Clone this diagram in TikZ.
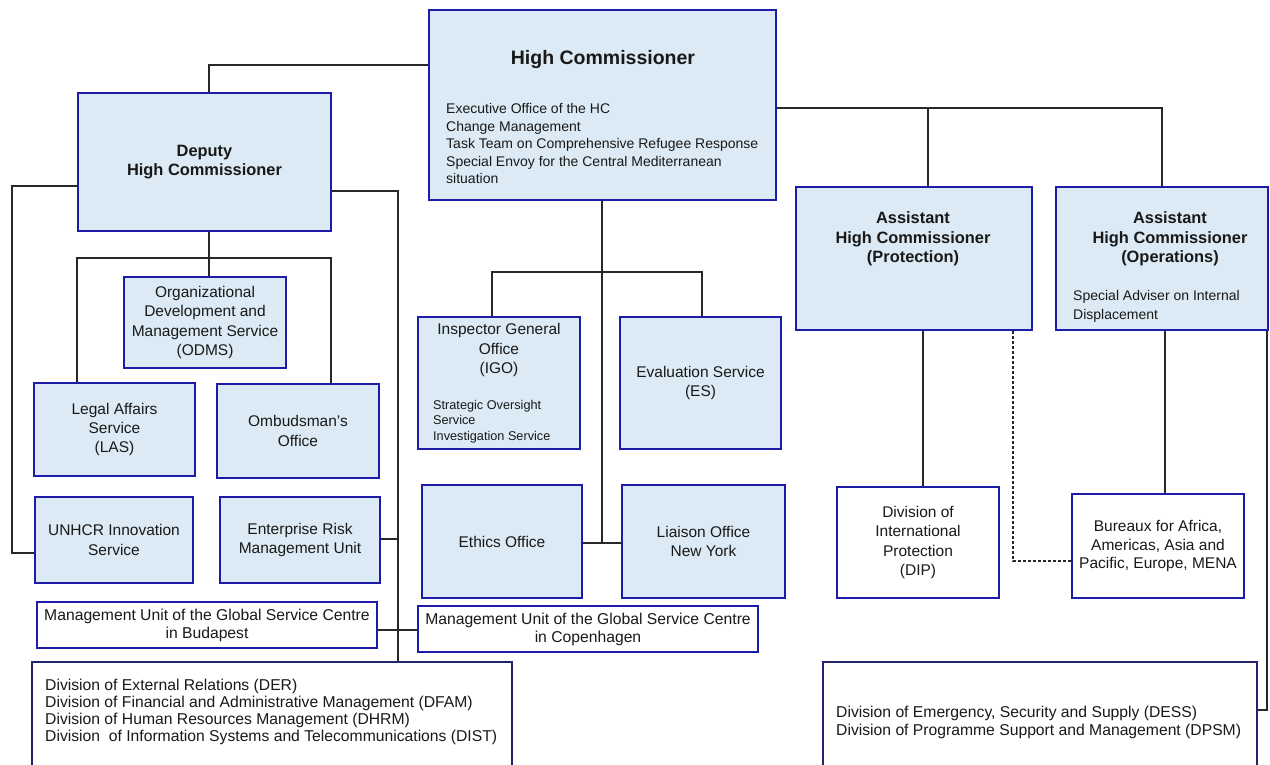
\documentclass[tikz,border=0pt]{standalone}
\usepackage{fontspec}
\setmainfont{Liberation Sans}
\definecolor{boxfill}{RGB}{219,234,244}
\definecolor{boxline}{RGB}{28,28,168}
\definecolor{navyline}{RGB}{35,35,110}
\definecolor{txt}{RGB}{25,25,25}
\definecolor{connc}{RGB}{40,40,40}
\tikzset{
  bluebox/.style={draw=boxline, line width=2pt, fill=boxfill, text=txt, align=center, inner sep=0pt},
  whitebox/.style={draw=boxline, line width=2pt, fill=white, text=txt, align=center, inner sep=0pt},
  navybox/.style={draw=navyline, line width=1.6pt, fill=white, inner sep=0pt},
  conn/.style={draw=connc, line width=1.1pt},
  dashconn/.style={draw=connc, line width=1.1pt, dash pattern=on 3pt off 2pt},
  txtnode/.style={text=txt, inner sep=0pt},
  fmain/.style={font=\fontsize{15.5}{19.3}\selectfont},
  fbold/.style={font=\fontsize{16.4}{19.6}\selectfont\bfseries},
  ftitle/.style={font=\fontsize{19.5}{23}\selectfont\bfseries},
  fhcbody/.style={font=\fontsize{14}{17.5}\selectfont},
  fsmall/.style={font=\fontsize{12.7}{15.5}\selectfont},
  fadv/.style={font=\fontsize{14}{19}\selectfont},
  fbottom/.style={font=\fontsize{15.7}{17}\selectfont},
  fbottomb/.style={font=\fontsize{15.7}{18}\selectfont},
}
\begin{document}
\begin{tikzpicture}[x=1pt,y=-1pt]
\useasboundingbox (0,0) rectangle (1270,765);
\fill[white] (0,0) rectangle (1270,765);
\clip (0,0) rectangle (1270,765);

% ---------- boxes ----------
\node[bluebox, minimum width=347pt, minimum height=190pt] (hc) at (602.5,105) {};
\node[bluebox, fbold, minimum width=253pt, minimum height=138pt] (dep) at (204.5,162) {Deputy\\High Commissioner};
\node[bluebox, minimum width=236pt, minimum height=143pt] (ahcp) at (914,258.5) {};
\node[bluebox, minimum width=212pt, minimum height=143pt] (ahco) at (1162,258.5) {};
\node[bluebox, fmain, minimum width=162pt, minimum height=91pt] (odms) at (205,322.5) {Organizational\\Development and\\Management Service\\(ODMS)};
\node[bluebox, fmain, minimum width=161pt, minimum height=93pt] (las) at (114.5,429.5) {Legal Affairs\\Service\\(LAS)};
\node[bluebox, fmain, minimum width=162pt, minimum height=94pt] (omb) at (298,431) {Ombudsman’s\\Office};
\node[bluebox, fmain, minimum width=158pt, minimum height=86pt] (inno) at (114,540) {UNHCR Innovation\\Service};
\node[bluebox, fmain, minimum width=160pt, minimum height=86pt] (erm) at (300,540) {Enterprise Risk\\Management Unit};
\node[bluebox, minimum width=162pt, minimum height=132pt] (igo) at (499,383) {};
\node[bluebox, fmain, minimum width=161pt, minimum height=132pt] (es) at (700.5,383) {Evaluation Service\\(ES)};
\node[bluebox, fmain, minimum width=160pt, minimum height=113pt] (eth) at (502,541.5) {Ethics Office};
\node[bluebox, fmain, minimum width=163pt, minimum height=113pt] (lia) at (703.5,541.5) {Liaison Office\\New York};
\node[whitebox, fmain, minimum width=162pt, minimum height=111pt] (dip) at (918,542.5) {Division of\\International\\Protection\\(DIP)};
\node[whitebox, fmain, font=\fontsize{15.5}{18.5}\selectfont, minimum width=172pt, minimum height=104pt] (bur) at (1158,546) {Bureaux for Africa,\\Americas, Asia and\\Pacific, Europe, MENA};
\node[whitebox, fbottomb, minimum width=340pt, minimum height=46pt] (bud) at (207,625) {Management Unit of the Global Service Centre\\in Budapest};
\node[whitebox, fbottomb, minimum width=340pt, minimum height=46pt] (cop) at (588,629) {Management Unit of the Global Service Centre\\in Copenhagen};
\node[navybox, minimum width=480pt, minimum height=128pt] (div) at (272,726) {};
\node[navybox, minimum width=434pt, minimum height=128pt] (dess) at (1040,726) {};

% ---------- texts placed inside boxes ----------
\node[txtnode, ftitle] (hct) at (603,60) {High Commissioner};
\node[txtnode, fhcbody, align=left, anchor=west] (hcb) at (446,143.5) {Executive Office of the HC\\Change Management\\Task Team on Comprehensive Refugee Response\\Special Envoy for the Central Mediterranean\\situation};
\node[txtnode, fbold, align=center] (ahcpt) at (913,239) {Assistant\\High Commissioner\\(Protection)};
\node[txtnode, fbold, align=center] (ahcot) at (1170,239) {Assistant\\High Commissioner\\(Operations)};
\node[txtnode, fadv, align=left, anchor=west] (ahcos) at (1073,306.5) {Special Adviser on Internal\\Displacement};
\node[txtnode, fmain, font=\fontsize{15.5}{19.5}\selectfont, align=center] (igot) at (499,350) {Inspector General\\Office\\(IGO)};
\node[txtnode, fsmall, align=left, anchor=west] (igos) at (433,421.5) {Strategic Oversight\\Service\\Investigation Service};
\node[txtnode, fbottom, align=left, anchor=west] (divt) at (45,712) {Division of External Relations (DER)\\Division of Financial and Administrative Management (DFAM)\\Division of Human Resources Management (DHRM)\\Division\ \ of Information Systems and Telecommunications (DIST)};
\node[txtnode, fbottomb, align=left, anchor=west] (desst) at (836,722) {Division of Emergency, Security and Supply (DESS)\\Division of Programme Support and Management (DPSM)};

% ---------- connectors ----------
% High Commissioner to Deputy
\draw[conn] (hc.west |- 0,65) -| (209,0 |- dep.north);
% High Commissioner to Assistants
\coordinate (jp) at (928,108);
\draw[conn] (hc.east |- 0,108) -| (1162,0 |- ahco.north);
\draw[conn] (jp) -- (jp |- ahcp.north);
% High Commissioner down to Ethics / Liaison
\coordinate (jc) at (602,543);
\draw[conn] (jc |- hc.south) -- (jc);
\draw[conn] (eth.east |- jc) -- (lia.west |- jc);
% IGO / ES bar
\draw[conn] (492,0 |- igo.north) |- (702,272) -- (702,0 |- es.north);
% Deputy down
\draw[conn] (209,0 |- dep.south) -- (209,0 |- odms.north);
\draw[conn] (77,0 |- las.north) |- (331,258) -- (331,0 |- omb.north);
% Deputy left
\draw[conn] (dep.west |- 0,186) -| (12,553) -- (inno.west |- 0,553);
% Deputy right
\draw[conn] (dep.east |- 0,191) -| (398,0 |- div.north);
\draw[conn] (erm.east |- 0,539) -- (398,539);
\draw[conn] (bud.east |- 0,630) -- (cop.west |- 0,630);
% Protection
\draw[conn] (923,0 |- ahcp.south) -- (923,0 |- dip.north);
\draw[dashconn] (1013,0 |- ahcp.south) |- (bur.west |- 0,561);
% Operations
\draw[conn] (1165,0 |- ahco.south) -- (1165,0 |- bur.north);
\draw[conn] (1267,0 |- ahco.south) |- (dess.east |- 0,710);
\end{tikzpicture}
\end{document}
